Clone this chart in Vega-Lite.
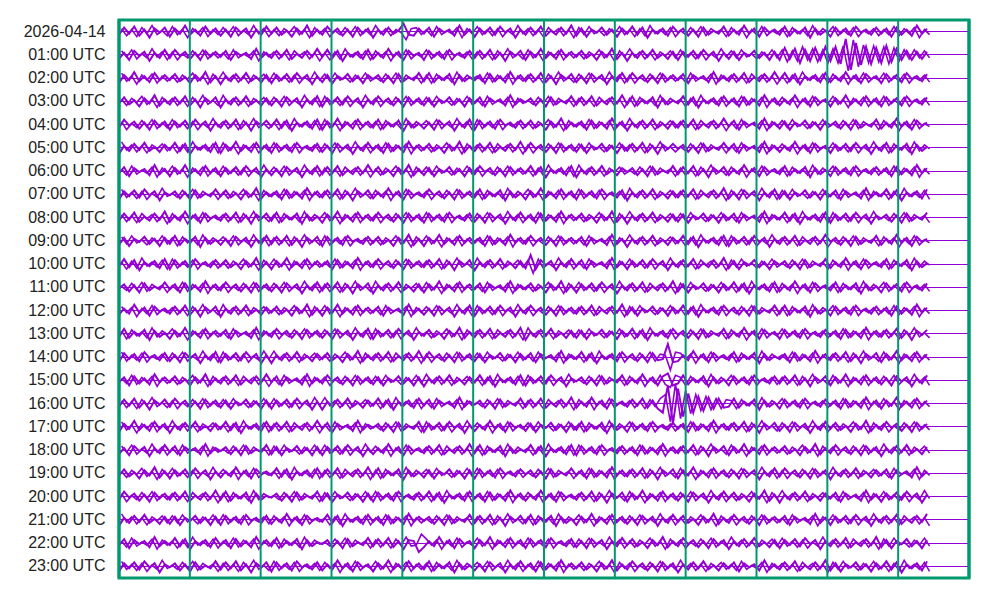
{
"$schema": "https://vega.github.io/schema/vega-lite/v6.json",
"width": 850, "height": 558,
"autosize": {"type": "none"},
"padding": {"left": 119, "top": 20, "right": 31, "bottom": 22},
"background": "white",
"config": {"view": {"stroke": "#00996e", "strokeWidth": 3}, "font": "Liberation Sans"},
"datasets": {"traces": [
{"lab": "2026-04-14", "v": [3,-4,2,-5,4,-2,6,-3,1,-4,5,-3,2,-6,3,-2,4,-5,2,-3,4,-2,5,-4,1,-3,6,-2,3,-5,2,-4,3,-1,5,-3,2,-6,4,-2,3,-5,1,-3,4,-2,5,-4,2,-3,6,-2,3,-4,2,-1,-8,3,4,-3,2,-4,5,-3,1,-2,4,-6,3,-2,5,-3,2,-4,3,-5,1,-3,6,-2,3,-4,2,-5,4,-1,3,-4,2,-6,4,-3,5,-2,1,-4,3,-2,5,-3,2,-5,3,-4,6,-2,2,-3,4,-5,1,-3,4,-2,5,-4,3,-1,2,-5,4,-2,3,-6,2,-3,5,-4,1,-2,3,-5,4,-2,2,-4,6,-3,3,-1,5,-4,2,-3,4,-5,1,-2,3,-4,2,-3,5,-4,3,-2,4,-6,2,-3]},
{"lab": "01:00 UTC", "v": [4,-2,5,-4,1,-3,6,-2,3,-5,3,-5,1,-3,4,-2,5,-4,2,-3,2,-4,5,-3,1,-2,4,-6,3,-2,3,-4,2,-5,4,-1,3,-4,2,-6,2,-5,3,-4,6,-2,2,-3,4,-5,4,-2,3,-6,2,-3,5,-4,1,-2,5,-4,2,-3,4,-5,1,-2,3,-4,3,-4,2,-5,4,-2,6,-3,1,-4,5,-3,2,-6,3,-2,4,-5,2,-3,2,-4,3,-1,5,-3,2,-6,4,-2,6,-2,3,-4,2,-5,3,-1,4,-3,5,-3,2,-4,3,-5,1,-3,6,-2,4,-3,5,-2,1,-4,3,-2,5,-3,5,-7,4,-6,8,-5,6,-7,5,-8,6,-8,9,-16,15,-12,10,-8,9,-7,8,-9,7,-6,5,-4,5,-3,4,-3]},
{"lab": "02:00 UTC", "v": [5,-3,2,-6,3,-2,4,-5,2,-3,2,-4,3,-1,5,-3,2,-6,4,-2,6,-2,3,-4,2,-5,3,-1,4,-3,5,-3,2,-4,3,-5,1,-3,6,-2,4,-3,5,-2,1,-4,3,-2,5,-3,1,-3,4,-2,5,-4,3,-1,2,-5,3,-5,4,-2,2,-4,6,-3,3,-1,2,-3,5,-4,3,-2,4,-6,2,-3,3,-4,2,-5,4,-2,6,-3,1,-4,4,-2,5,-4,1,-3,6,-2,3,-5,3,-5,1,-3,4,-2,5,-4,2,-3,2,-4,5,-3,1,-2,4,-6,3,-2,3,-4,2,-5,4,-1,3,-4,2,-6,2,-5,3,-4,6,-2,2,-3,4,-5,4,-2,3,-6,2,-3,5,-4,1,-2,5,-4,2,-3,4,-5,1,-2,3,-4]},
{"lab": "03:00 UTC", "v": [2,-4,3,-1,5,-3,2,-6,4,-2,3,-4,2,-5,4,-2,6,-3,1,-4,6,-2,3,-4,2,-5,3,-1,4,-3,4,-2,5,-4,1,-3,6,-2,3,-5,5,-3,2,-4,3,-5,1,-3,6,-2,3,-5,1,-3,4,-2,5,-4,2,-3,4,-3,5,-2,1,-4,3,-2,5,-3,2,-4,5,-3,1,-2,4,-6,3,-2,1,-3,4,-2,5,-4,3,-1,2,-5,3,-4,2,-5,4,-1,3,-4,2,-6,3,-5,4,-2,2,-4,6,-3,3,-1,2,-5,3,-4,6,-2,2,-3,4,-5,2,-3,5,-4,3,-2,4,-6,2,-3,4,-2,3,-6,2,-3,5,-4,1,-2,5,-3,2,-6,3,-2,4,-5,2,-3,5,-4,2,-3,4,-5,1,-2,3,-4]},
{"lab": "04:00 UTC", "v": [3,-5,1,-3,4,-2,5,-4,2,-3,5,-3,2,-4,3,-5,1,-3,6,-2,3,-4,2,-5,4,-2,6,-3,1,-4,2,-5,3,-4,6,-2,2,-3,4,-5,5,-3,2,-6,3,-2,4,-5,2,-3,3,-5,4,-2,2,-4,6,-3,3,-1,4,-2,5,-4,1,-3,6,-2,3,-5,5,-4,2,-3,4,-5,1,-2,3,-4,2,-4,3,-1,5,-3,2,-6,4,-2,2,-3,5,-4,3,-2,4,-6,2,-3,6,-2,3,-4,2,-5,3,-1,4,-3,3,-4,2,-5,4,-1,3,-4,2,-6,2,-4,5,-3,1,-2,4,-6,3,-2,4,-3,5,-2,1,-4,3,-2,5,-3,1,-3,4,-2,5,-4,3,-1,2,-5,4,-2,3,-6,2,-3,5,-4,1,-2]},
{"lab": "05:00 UTC", "v": [6,-2,3,-4,2,-5,3,-1,4,-3,2,-5,3,-4,6,-2,2,-3,4,-5,5,-3,2,-6,3,-2,4,-5,2,-3,5,-4,2,-3,4,-5,1,-2,3,-4,4,-2,5,-4,1,-3,6,-2,3,-5,2,-3,5,-4,3,-2,4,-6,2,-3,2,-4,3,-1,5,-3,2,-6,4,-2,3,-4,2,-5,4,-1,3,-4,2,-6,3,-5,1,-3,4,-2,5,-4,2,-3,4,-3,5,-2,1,-4,3,-2,5,-3,3,-4,2,-5,4,-2,6,-3,1,-4,1,-3,4,-2,5,-4,3,-1,2,-5,2,-4,5,-3,1,-2,4,-6,3,-2,4,-2,3,-6,2,-3,5,-4,1,-2,5,-3,2,-4,3,-5,1,-3,6,-2,3,-5,4,-2,2,-4,6,-3,3,-1]},
{"lab": "06:00 UTC", "v": [2,-4,5,-3,1,-2,4,-6,3,-2,5,-3,2,-6,3,-2,4,-5,2,-3,5,-3,2,-4,3,-5,1,-3,6,-2,4,-2,5,-4,1,-3,6,-2,3,-5,3,-4,2,-5,4,-1,3,-4,2,-6,2,-4,3,-1,5,-3,2,-6,4,-2,4,-3,5,-2,1,-4,3,-2,5,-3,3,-5,1,-3,4,-2,5,-4,2,-3,2,-5,3,-4,6,-2,2,-3,4,-5,6,-2,3,-4,2,-5,3,-1,4,-3,1,-3,4,-2,5,-4,3,-1,2,-5,3,-4,2,-5,4,-2,6,-3,1,-4,4,-2,3,-6,2,-3,5,-4,1,-2,3,-5,4,-2,2,-4,6,-3,3,-1,5,-4,2,-3,4,-5,1,-2,3,-4,2,-3,5,-4,3,-2,4,-6,2,-3]},
{"lab": "07:00 UTC", "v": [5,-3,2,-4,3,-5,1,-3,6,-2,1,-3,4,-2,5,-4,3,-1,2,-5,2,-4,3,-1,5,-3,2,-6,4,-2,2,-3,5,-4,3,-2,4,-6,2,-3,3,-4,2,-5,4,-2,6,-3,1,-4,4,-2,3,-6,2,-3,5,-4,1,-2,3,-5,1,-3,4,-2,5,-4,2,-3,3,-5,4,-2,2,-4,6,-3,3,-1,5,-3,2,-6,3,-2,4,-5,2,-3,5,-4,2,-3,4,-5,1,-2,3,-4,6,-2,3,-4,2,-5,3,-1,4,-3,3,-4,2,-5,4,-1,3,-4,2,-6,4,-2,5,-4,1,-3,6,-2,3,-5,4,-3,5,-2,1,-4,3,-2,5,-3,2,-4,5,-3,1,-2,4,-6,3,-2,2,-5,3,-4,6,-2,2,-3,4,-5]},
{"lab": "08:00 UTC", "v": [3,-4,2,-5,4,-1,3,-4,2,-6,4,-2,3,-6,2,-3,5,-4,1,-2,3,-4,2,-5,4,-2,6,-3,1,-4,3,-5,4,-2,2,-4,6,-3,3,-1,5,-3,2,-6,3,-2,4,-5,2,-3,3,-5,1,-3,4,-2,5,-4,2,-3,5,-4,2,-3,4,-5,1,-2,3,-4,4,-2,5,-4,1,-3,6,-2,3,-5,2,-3,5,-4,3,-2,4,-6,2,-3,2,-4,3,-1,5,-3,2,-6,4,-2,6,-2,3,-4,2,-5,3,-1,4,-3,4,-3,5,-2,1,-4,3,-2,5,-3,2,-4,5,-3,1,-2,4,-6,3,-2,2,-5,3,-4,6,-2,2,-3,4,-5,5,-3,2,-4,3,-5,1,-3,6,-2,1,-3,4,-2,5,-4,3,-1,2,-5]},
{"lab": "09:00 UTC", "v": [4,-3,5,-2,1,-4,3,-2,5,-3,3,-5,4,-2,2,-4,6,-3,3,-1,4,-2,5,-4,1,-3,6,-2,3,-5,3,-4,2,-5,4,-2,6,-3,1,-4,5,-4,2,-3,4,-5,1,-2,3,-4,2,-4,3,-1,5,-3,2,-6,4,-2,5,-3,2,-6,3,-2,4,-5,2,-3,2,-3,5,-4,3,-2,4,-6,2,-3,3,-5,1,-3,4,-2,5,-4,2,-3,2,-4,5,-3,1,-2,4,-6,3,-2,6,-2,3,-4,2,-5,3,-1,4,-3,2,-5,3,-4,6,-2,2,-3,4,-5,5,-3,2,-4,3,-5,1,-3,6,-2,3,-4,2,-5,4,-1,3,-4,2,-6,1,-3,4,-2,5,-4,3,-1,2,-5,4,-2,3,-6,2,-3,5,-4,1,-2]},
{"lab": "10:00 UTC", "v": [2,-5,3,-4,6,-2,2,-3,4,-5,5,-4,2,-3,4,-5,1,-2,3,-4,2,-4,3,-1,5,-3,2,-6,4,-2,5,-3,2,-6,3,-2,4,-5,2,-3,2,-3,5,-4,3,-2,4,-6,2,-3,3,-5,1,-3,4,-2,5,-4,2,-3,3,-4,2,-5,4,-2,6,-3,1,-4,6,-2,3,-4,2,-5,3,-1,4,-3,4,-9,5,-4,1,-3,6,-2,3,-5,2,-4,5,-3,1,-2,4,-6,3,-2,5,-3,2,-4,3,-5,1,-3,6,-2,3,-4,2,-5,4,-1,3,-4,2,-6,4,-3,5,-2,1,-4,3,-2,5,-3,1,-3,4,-2,5,-4,3,-1,2,-5,4,-2,3,-6,2,-3,5,-4,1,-2,3,-5,4,-2,2,-4,6,-3,3,-1]},
{"lab": "11:00 UTC", "v": [1,-3,4,-2,5,-4,3,-1,2,-5,2,-3,5,-4,3,-2,4,-6,2,-3,3,-5,1,-3,4,-2,5,-4,2,-3,4,-2,5,-4,1,-3,6,-2,3,-5,3,-4,2,-5,4,-2,6,-3,1,-4,6,-2,3,-4,2,-5,3,-1,4,-3,5,-3,2,-6,3,-2,4,-5,2,-3,2,-4,5,-3,1,-2,4,-6,3,-2,2,-4,3,-1,5,-3,2,-6,4,-2,5,-3,2,-4,3,-5,1,-3,6,-2,3,-4,2,-5,4,-1,3,-4,2,-6,4,-3,5,-2,1,-4,3,-2,5,-3,2,-5,3,-4,6,-2,2,-3,4,-5,4,-2,3,-6,2,-3,5,-4,1,-2,3,-5,4,-2,2,-4,6,-3,3,-1,5,-4,2,-3,4,-5,1,-2,3,-4]},
{"lab": "12:00 UTC", "v": [4,-2,3,-6,2,-3,5,-4,1,-2,3,-4,2,-5,4,-2,6,-3,1,-4,6,-2,3,-4,2,-5,3,-1,4,-3,2,-4,3,-1,5,-3,2,-6,4,-2,5,-3,2,-6,3,-2,4,-5,2,-3,2,-4,5,-3,1,-2,4,-6,3,-2,4,-2,5,-4,1,-3,6,-2,3,-5,5,-3,2,-4,3,-5,1,-3,6,-2,3,-5,1,-3,4,-2,5,-4,2,-3,3,-4,2,-5,4,-1,3,-4,2,-6,4,-3,5,-2,1,-4,3,-2,5,-3,2,-5,3,-4,6,-2,2,-3,4,-5,1,-3,4,-2,5,-4,3,-1,2,-5,3,-5,4,-2,2,-4,6,-3,3,-1,5,-4,2,-3,4,-5,1,-2,3,-4,2,-3,5,-4,3,-2,4,-6,2,-3]},
{"lab": "13:00 UTC", "v": [3,-5,4,-2,2,-4,6,-3,3,-1,5,-3,2,-6,3,-2,4,-5,2,-3,2,-4,5,-3,1,-2,4,-6,3,-2,3,-5,1,-3,4,-2,5,-4,2,-3,4,-2,5,-4,1,-3,6,-2,3,-5,5,-3,2,-4,3,-5,1,-3,6,-2,2,-4,3,-1,5,-3,2,-6,4,-2,3,-4,2,-5,4,-1,3,-4,2,-6,6,-2,3,-4,2,-5,3,-1,4,-3,4,-3,5,-2,1,-4,3,-2,5,-3,2,-5,3,-4,6,-2,2,-3,4,-5,1,-3,4,-2,5,-4,3,-1,2,-5,4,-2,3,-6,2,-3,5,-4,1,-2,5,-4,2,-3,4,-5,1,-2,3,-4,2,-3,5,-4,3,-2,4,-6,2,-3,3,-4,2,-5,4,-2,6,-3,1,-4]},
{"lab": "14:00 UTC", "v": [5,-4,2,-3,4,-5,1,-2,3,-4,4,-2,5,-4,1,-3,6,-2,3,-5,5,-3,2,-4,3,-5,1,-3,6,-2,6,-2,3,-4,2,-5,3,-1,4,-3,2,-4,3,-1,5,-3,2,-6,4,-2,3,-4,2,-5,4,-1,3,-4,2,-6,3,-5,1,-3,4,-2,5,-4,2,-3,4,-3,5,-2,1,-4,3,-2,5,-3,2,-4,5,-3,1,-2,4,-6,3,-2,2,-5,3,-4,6,-2,2,-3,4,-5,1,-3,4,-2,5,-4,3,2,-13,5,4,-2,3,-6,2,-3,5,-4,1,-2,3,-5,4,-2,2,-4,6,-3,3,-1,2,-3,5,-4,3,-2,4,-6,2,-3,3,-4,2,-5,4,-2,6,-3,1,-4,5,-3,2,-6,3,-2,4,-5,2,-3]},
{"lab": "15:00 UTC", "v": [2,-3,5,-4,3,-2,4,-6,2,-3,2,-4,3,-1,5,-3,2,-6,4,-2,3,-4,2,-5,4,-1,3,-4,2,-6,2,-4,5,-3,1,-2,4,-6,3,-2,3,-5,1,-3,4,-2,5,-4,2,-3,4,-3,5,-2,1,-4,3,-2,5,-3,6,-2,3,-4,2,-5,3,-1,4,-3,2,-5,3,-4,6,-2,2,-3,4,-5,5,-3,2,-4,3,-5,1,-3,6,-2,1,-3,4,-2,5,-4,3,-1,2,-5,4,-2,3,-6,2,-3,5,-4,-7,5,3,-5,4,-2,2,-4,6,-3,3,-1,5,-4,2,-3,4,-5,1,-2,3,-4,3,-4,2,-5,4,-2,6,-3,1,-4,5,-3,2,-6,3,-2,4,-5,2,-3,4,-2,5,-4,1,-3,6,-2,3,-5]},
{"lab": "16:00 UTC", "v": [3,-4,2,-5,4,-2,6,-3,1,-4,3,-5,1,-3,4,-2,5,-4,2,-3,4,-3,5,-2,1,-4,3,-2,5,-3,5,-3,2,-4,3,-5,1,-3,6,-2,6,-2,3,-4,2,-5,3,-1,4,-3,2,-5,3,-4,6,-2,2,-3,4,-5,2,-4,5,-3,1,-2,4,-6,3,-2,1,-3,4,-2,5,-4,3,-1,2,-5,3,-4,2,-5,4,-1,3,-4,2,-6,4,-2,3,-6,2,-3,5,-4,1,-2,3,-4,2,-5,4,-3,5,9,-18,20,-15,13,-10,9,-7,7,-6,5,-5,4,3,-5,4,-2,2,-4,6,-3,3,-1,5,-4,2,-3,4,-5,1,-2,3,-4,2,-3,5,-4,3,-2,4,-6,2,-3,5,-3,2,-6,3,-2,4,-5,2,-3]},
{"lab": "17:00 UTC", "v": [5,-3,2,-6,3,-2,4,-5,2,-3,6,-2,3,-4,2,-5,3,-1,4,-3,2,-5,3,-4,6,-2,2,-3,4,-5,3,-4,2,-5,4,-1,3,-4,2,-6,2,-4,5,-3,1,-2,4,-6,3,-2,1,-3,4,-2,5,-4,3,-1,2,-5,5,-3,2,-4,3,-5,1,-3,6,-2,4,-2,3,-6,2,-3,5,-4,1,-2,4,-3,5,-2,1,-4,3,-2,5,-3,3,-5,4,-2,2,-4,6,-3,3,-1,5,-4,2,-3,4,-5,1,-2,3,-4,2,-3,5,-4,3,-2,4,-6,2,-3,3,-4,2,-5,4,-2,6,-3,1,-4,4,-2,5,-4,1,-3,6,-2,3,-5,2,-4,3,-1,5,-3,2,-6,4,-2,3,-5,1,-3,4,-2,5,-4,2,-3]},
{"lab": "18:00 UTC", "v": [4,-2,5,-4,1,-3,6,-2,3,-5,2,-4,5,-3,1,-2,4,-6,3,-2,1,-3,4,-2,5,-4,3,-1,2,-5,4,-3,5,-2,1,-4,3,-2,5,-3,5,-3,2,-4,3,-5,1,-3,6,-2,4,-2,3,-6,2,-3,5,-4,1,-2,3,-4,2,-5,4,-1,3,-4,2,-6,3,-5,4,-2,2,-4,6,-3,3,-1,2,-5,3,-4,6,-2,2,-3,4,-5,5,-4,2,-3,4,-5,1,-2,3,-4,2,-3,5,-4,3,-2,4,-6,2,-3,3,-4,2,-5,4,-2,6,-3,1,-4,5,-3,2,-6,3,-2,4,-5,2,-3,2,-4,3,-1,5,-3,2,-6,4,-2,3,-5,1,-3,4,-2,5,-4,2,-3,6,-2,3,-4,2,-5,3,-1,4,-3]},
{"lab": "19:00 UTC", "v": [2,-4,3,-1,5,-3,2,-6,4,-2,5,-3,2,-4,3,-5,1,-3,6,-2,4,-2,3,-6,2,-3,5,-4,1,-2,2,-5,3,-4,6,-2,2,-3,4,-5,3,-4,2,-5,4,-1,3,-4,2,-6,3,-5,4,-2,2,-4,6,-3,3,-1,4,-3,5,-2,1,-4,3,-2,5,-3,5,-4,2,-3,4,-5,1,-2,3,-4,1,-3,4,-2,5,-4,3,-1,2,-5,2,-3,5,-4,3,-2,4,-6,2,-3,3,-4,2,-5,4,-2,6,-3,1,-4,5,-3,2,-6,3,-2,4,-5,2,-3,4,-2,5,-4,1,-3,6,-2,3,-5,3,-5,1,-3,4,-2,5,-4,2,-3,6,-2,3,-4,2,-5,3,-1,4,-3,2,-4,5,-3,1,-2,4,-6,3,-2]},
{"lab": "20:00 UTC", "v": [3,-5,1,-3,4,-2,5,-4,2,-3,3,-4,2,-5,4,-1,3,-4,2,-6,3,-5,4,-2,2,-4,6,-3,3,-1,1,-3,4,-2,5,-4,3,-1,2,-5,4,-3,5,-2,1,-4,3,-2,5,-3,5,-4,2,-3,4,-5,1,-2,3,-4,2,-5,3,-4,6,-2,2,-3,4,-5,2,-3,5,-4,3,-2,4,-6,2,-3,4,-2,3,-6,2,-3,5,-4,1,-2,3,-4,2,-5,4,-2,6,-3,1,-4,5,-3,2,-6,3,-2,4,-5,2,-3,4,-2,5,-4,1,-3,6,-2,3,-5,2,-4,3,-1,5,-3,2,-6,4,-2,6,-2,3,-4,2,-5,3,-1,4,-3,2,-4,5,-3,1,-2,4,-6,3,-2,5,-3,2,-4,3,-5,1,-3,6,-2]},
{"lab": "21:00 UTC", "v": [6,-2,3,-4,2,-5,3,-1,4,-3,4,-3,5,-2,1,-4,3,-2,5,-3,5,-4,2,-3,4,-5,1,-2,3,-4,4,-2,3,-6,2,-3,5,-4,1,-2,2,-5,3,-4,6,-2,2,-3,4,-5,2,-3,5,-4,3,-2,4,-6,2,-3,1,-3,4,-2,5,-4,3,-1,2,-5,3,-4,2,-5,4,-2,6,-3,1,-4,3,-5,4,-2,2,-4,6,-3,3,-1,5,-3,2,-6,3,-2,4,-5,2,-3,4,-2,5,-4,1,-3,6,-2,3,-5,2,-4,3,-1,5,-3,2,-6,4,-2,3,-5,1,-3,4,-2,5,-4,2,-3,2,-4,5,-3,1,-2,4,-6,3,-2,5,-3,2,-4,3,-5,1,-3,6,-2,3,-4,2,-5,4,-1,3,-4,2,-6]},
{"lab": "22:00 UTC", "v": [2,-4,5,-3,1,-2,4,-6,3,-2,2,-5,3,-4,6,-2,2,-3,4,-5,2,-3,5,-4,3,-2,4,-6,2,-3,3,-5,4,-2,2,-4,6,-3,3,-1,1,-3,4,-2,5,-4,3,-1,2,-5,3,-4,2,-5,4,-2,6,-3,-2,9,4,-2,3,-6,2,-3,5,-4,1,-2,5,-3,2,-6,3,-2,4,-5,2,-3,5,-4,2,-3,4,-5,1,-2,3,-4,4,-2,5,-4,1,-3,6,-2,3,-5,2,-4,3,-1,5,-3,2,-6,4,-2,3,-5,1,-3,4,-2,5,-4,2,-3,6,-2,3,-4,2,-5,3,-1,4,-3,5,-3,2,-4,3,-5,1,-3,6,-2,3,-4,2,-5,4,-1,3,-4,2,-6,4,-3,5,-2,1,-4,3,-2,5,-3]},
{"lab": "23:00 UTC", "v": [5,-3,2,-4,3,-5,1,-3,6,-2,1,-3,4,-2,5,-4,3,-1,2,-5,3,-4,2,-5,4,-2,6,-3,1,-4,5,-4,2,-3,4,-5,1,-2,3,-4,4,-2,3,-6,2,-3,5,-4,1,-2,5,-3,2,-6,3,-2,4,-5,2,-3,3,-5,4,-2,2,-4,6,-3,3,-1,4,-2,5,-4,1,-3,6,-2,3,-5,2,-3,5,-4,3,-2,4,-6,2,-3,2,-4,3,-1,5,-3,2,-6,4,-2,3,-5,1,-3,4,-2,5,-4,2,-3,6,-2,3,-4,2,-5,3,-1,4,-3,2,-4,5,-3,1,-2,4,-6,3,-2,3,-4,2,-5,4,-1,3,-4,2,-6,4,-3,5,-2,1,-4,3,-2,5,-3,2,-5,3,-4,6,-2,2,-3,4,-5]}
]},
"layer": [
{
"data": {"name": "traces"},
"transform": [
{"flatten": ["v"]},
{"window": [{"op": "row_number", "as": "i"}], "groupby": ["lab"]}
],
"mark": {"type": "line", "color": "#9400d3", "strokeWidth": 2},
"encoding": {
"x": {"field": "i", "type": "quantitative", "scale": {"domain": [1, 168.26], "nice": false, "zero": false}, "axis": null},
"y": {"field": "lab", "type": "nominal", "scale": {"type": "band", "paddingInner": 0, "paddingOuter": 0, "domain": ["2026-04-14","01:00 UTC","02:00 UTC","03:00 UTC","04:00 UTC","05:00 UTC","06:00 UTC","07:00 UTC","08:00 UTC","09:00 UTC","10:00 UTC","11:00 UTC","12:00 UTC","13:00 UTC","14:00 UTC","15:00 UTC","16:00 UTC","17:00 UTC","18:00 UTC","19:00 UTC","20:00 UTC","21:00 UTC","22:00 UTC","23:00 UTC"]},
"axis": {"title": null, "ticks": false, "domain": false, "grid": true, "gridColor": "#9400d3", "gridWidth": 1, "gridOpacity": 1, "bandPosition": 0.5, "labelFontSize": 16, "labelFont": "Liberation Sans", "labelColor": "#222222", "labelPadding": 14}},
"yOffset": {"field": "v", "type": "quantitative", "scale": {"domain": [-11.63, 11.63], "nice": false, "zero": false}},
"detail": {"field": "lab"},
"order": {"field": "i", "type": "quantitative"}
}
},
{
"data": {"name": "traces"},
"transform": [
{"flatten": ["v"]},
{"window": [{"op": "row_number", "as": "i"}], "groupby": ["lab"]}
],
"mark": {"type": "line", "color": "#9400d3", "strokeWidth": 1.6},
"encoding": {
"x": {"field": "i", "type": "quantitative", "scale": {"domain": [0.5, 167.76], "nice": false, "zero": false}, "axis": null},
"y": {"field": "lab", "type": "nominal"},
"yOffset": {"field": "v", "type": "quantitative", "scale": {"domain": [11.63, -11.63], "nice": false, "zero": false}},
"detail": {"field": "lab"},
"order": {"field": "i", "type": "quantitative"}
}
},
{
"data": {"values": [{"m": 0},{"m": 5},{"m": 10},{"m": 15},{"m": 20},{"m": 25},{"m": 30},{"m": 35},{"m": 40},{"m": 45},{"m": 50},{"m": 55},{"m": 60}]},
"layer": [
{"transform": [{"filter": "datum.m % 60 != 0"}], "mark": {"type": "rule", "color": "#00996e", "strokeWidth": 2}, "encoding": {"x": {"field": "m", "type": "quantitative", "scale": {"domain": [0, 60], "nice": false, "zero": false}, "axis": null}}},
{"transform": [{"filter": "datum.m % 60 == 0"}], "mark": {"type": "rule", "color": "#00996e", "strokeWidth": 3}, "encoding": {"x": {"field": "m", "type": "quantitative", "scale": {"domain": [0, 60], "nice": false, "zero": false}, "axis": null}}}
]
}
],
"resolve": {"scale": {"x": "independent", "yOffset": "independent"}}
}
